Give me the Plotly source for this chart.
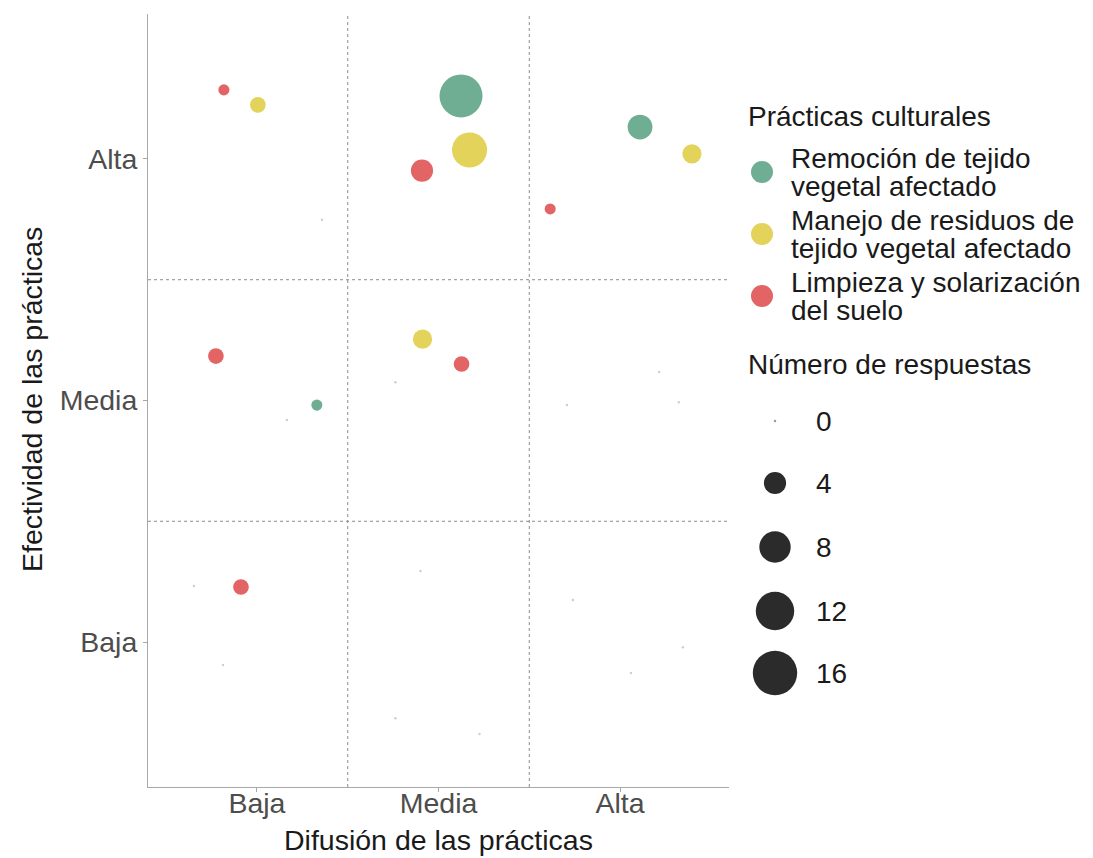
import plotly.graph_objects as go

# ---------------- data ----------------
difusion_niveles = ["Baja", "Media", "Alta"]
efectividad_niveles = ["Baja", "Media", "Alta"]

practicas = [
    "Remoción de tejido vegetal afectado",
    "Manejo de residuos de tejido vegetal afectado",
    "Limpieza y solarización del suelo",
]
practicas_lineas = [
    ["Remoción de tejido", "vegetal afectado"],
    ["Manejo de residuos de", "tejido vegetal afectado"],
    ["Limpieza y solarización", "del suelo"],
]
colores = ["#6fae93", "#e4d35b", "#e26464"]

celda_difusion = ["Baja", "Media", "Alta", "Baja", "Media", "Alta", "Baja", "Media", "Alta"]
celda_efectividad = ["Alta", "Alta", "Alta", "Media", "Media", "Media", "Baja", "Baja", "Baja"]

respuestas_remocion = [0, 15, 5, 1, 0, 0, 0, 0, 0]
respuestas_manejo = [2, 10, 3, 0, 3, 0, 0, 0, 0]
respuestas_limpieza = [1, 4, 1, 2, 2, 0, 2, 0, 0]

jitter_x_remocion = [0.358, 0.124, 0.110, 0.330, -0.237, 0.215, -0.347, -0.099, -0.260]
jitter_y_remocion = [-0.252, 0.261, 0.132, -0.019, 0.076, 0.118, 0.232, 0.294, 0.174]
jitter_x_manejo = [0.005, 0.171, 0.396, 0.165, -0.088, -0.293, -0.187, -0.237, 0.346]
jitter_y_manejo = [0.224, 0.037, 0.021, -0.081, 0.254, -0.019, -0.095, -0.315, -0.021]
jitter_x_limpieza = [-0.182, -0.091, -0.385, -0.226, 0.127, 0.324, -0.088, 0.226, 0.060]
jitter_y_limpieza = [0.286, -0.048, -0.207, 0.184, 0.151, -0.007, 0.228, -0.381, -0.128]

leyenda_tamanos = [0, 4, 8, 12, 16]

respuestas = [respuestas_remocion, respuestas_manejo, respuestas_limpieza]
jitter_x = [jitter_x_remocion, jitter_x_manejo, jitter_x_limpieza]
jitter_y = [jitter_y_remocion, jitter_y_manejo, jitter_y_limpieza]

# ---------------- styling / layout (screen pixel coords) ----------------
FONT = "Liberation Sans, Arial, sans-serif"
PX_PER_SQRT = 11.1
SIZEREF = 2.0 / PX_PER_SQRT ** 2
ZERO_COLOR = "#cfcfcf"
AXIS_COLOR = "#a8a8a8"
GRID_COLOR = "#8c8c8c"
TEXT_COLOR = "#1a1a1a"
TICK_FS = 28.5
TITLE_FS = 28.5
LEG_FS = 28

OFF = 8  # page body margin
W, H = 1093 - OFF, 858 - OFF
plot_left_s, plot_top_s, plot_bottom_s = 148, 14, 787
main_right_s, fig_right_s, aux_left_s = 729, 1083, 737
ML = plot_left_s - OFF
MT = plot_top_s - OFF
MB = (H + OFF) - plot_bottom_s
MR = (W + OFF) - fig_right_s
plot_w = fig_right_s - plot_left_s
plot_h = plot_bottom_s - plot_top_s
x_dom_end = (main_right_s - plot_left_s) / plot_w
aux_dom_start = (aux_left_s - plot_left_s) / plot_w

fig = go.Figure()

def pos(levels, value):
    return levels.index(value) + 1

for p in range(3):
    xs = [pos(difusion_niveles, d) + j for d, j in zip(celda_difusion, jitter_x[p])]
    ys = [pos(efectividad_niveles, e) + j for e, j in zip(celda_efectividad, jitter_y[p])]
    xs_pos = [x for x, v in zip(xs, respuestas[p]) if v > 0]
    ys_pos = [y for y, v in zip(ys, respuestas[p]) if v > 0]
    vs_pos = [v for v in respuestas[p] if v > 0]
    xs_zero = [x for x, v in zip(xs, respuestas[p]) if v == 0]
    ys_zero = [y for y, v in zip(ys, respuestas[p]) if v == 0]
    fig.add_trace(go.Scatter(
        x=xs_pos, y=ys_pos, mode="markers", name=practicas[p],
        marker=dict(size=vs_pos, sizemode="area", sizeref=SIZEREF,
                    color=colores[p], line=dict(width=0), opacity=1),
        showlegend=False,
    ))
    fig.add_trace(go.Scatter(
        x=xs_zero, y=ys_zero, mode="markers", name=practicas[p] + " (0)",
        marker=dict(size=2.5, color=ZERO_COLOR, line=dict(width=0), opacity=1),
        showlegend=False,
    ))

# ---------------- custom legend (auxiliary axes in screen pixel coords) ----------------
key_x = 762
key_ys = [172, 234, 296]
fig.add_trace(go.Scatter(
    x=[key_x] * 3, y=key_ys, mode="markers", xaxis="x2", yaxis="y2",
    marker=dict(size=22, color=colores, line=dict(width=0), opacity=1), showlegend=False,
    hoverinfo="skip",
))

size_key_x = 775
size_key_ys = [421, 483, 547, 611, 673]
fig.add_trace(go.Scatter(
    x=[size_key_x for v in leyenda_tamanos if v > 0],
    y=[y for y, v in zip(size_key_ys, leyenda_tamanos) if v > 0],
    mode="markers", xaxis="x2", yaxis="y2",
    marker=dict(size=[v for v in leyenda_tamanos if v > 0], sizemode="area",
                sizeref=SIZEREF, color="#2b2b2b", line=dict(width=0), opacity=1),
    showlegend=False, hoverinfo="skip",
))
fig.add_trace(go.Scatter(
    x=[size_key_x for v in leyenda_tamanos if v == 0],
    y=[y for y, v in zip(size_key_ys, leyenda_tamanos) if v == 0],
    mode="markers", xaxis="x2", yaxis="y2",
    marker=dict(size=2.5, color="#9a9a9a", line=dict(width=0), opacity=1),
    showlegend=False, hoverinfo="skip",
))

annotations = []
annotations.append(dict(x=747, y=116, xref="x2", yref="y2", text="Prácticas culturales",
                        showarrow=False, xanchor="left", yanchor="middle", borderpad=0,
                        font=dict(family=FONT, size=LEG_FS, color=TEXT_COLOR)))
for ky, lines in zip(key_ys, practicas_lineas):
    for i, line in enumerate(lines):
        annotations.append(dict(x=790, y=ky - 14 + 28.5 * i, xref="x2", yref="y2", text=line,
                                showarrow=False, xanchor="left", yanchor="middle", borderpad=0,
                                font=dict(family=FONT, size=LEG_FS, color=TEXT_COLOR)))
annotations.append(dict(x=747, y=364, xref="x2", yref="y2", text="Número de respuestas",
                        showarrow=False, xanchor="left", yanchor="middle", borderpad=0,
                        font=dict(family=FONT, size=LEG_FS, color=TEXT_COLOR)))
for ky, v in zip(size_key_ys, leyenda_tamanos):
    annotations.append(dict(x=815, y=ky, xref="x2", yref="y2", text=str(v),
                            showarrow=False, xanchor="left", yanchor="middle", borderpad=0,
                            font=dict(family=FONT, size=LEG_FS, color=TEXT_COLOR)))

# axis titles
annotations.append(dict(x=((plot_left_s + main_right_s) / 2 - plot_left_s) / plot_w,
                        y=(plot_bottom_s - 840) / plot_h,
                        xref="paper", yref="paper", text="Difusión de las prácticas",
                        showarrow=False, xanchor="center", yanchor="middle", borderpad=0,
                        font=dict(family=FONT, size=TITLE_FS, color=TEXT_COLOR)))
annotations.append(dict(x=(32 - plot_left_s) / plot_w, y=(plot_bottom_s - 400) / plot_h,
                        xref="paper", yref="paper", text="Efectividad de las prácticas",
                        showarrow=False, xanchor="center", yanchor="middle", textangle=-90,
                        borderpad=0,
                        font=dict(family=FONT, size=TITLE_FS, color=TEXT_COLOR)))

# divider lines
shapes = []
for b in [1.5, 2.5]:
    shapes.append(dict(type="line", xref="x", yref="y", x0=b, x1=b, y0=0.4, y1=3.6,
                       line=dict(color=GRID_COLOR, width=1, dash="dot"), layer="below"))
    shapes.append(dict(type="line", xref="x", yref="y", x0=0.4, x1=3.6, y0=b, y1=b,
                       line=dict(color=GRID_COLOR, width=1, dash="dot"), layer="below"))

axis_common = dict(
    range=[0.4, 3.6], tickvals=[1, 2, 3], showgrid=False, zeroline=False,
    showline=True, linecolor=AXIS_COLOR, linewidth=1, mirror=False,
    ticks="outside", ticklen=4, tickcolor=AXIS_COLOR, tickwidth=1,
    tickfont=dict(family=FONT, size=TICK_FS, color="#4d4d4d"), fixedrange=True,
)

fig.update_layout(
    width=W, height=H,
    margin=dict(l=ML, r=MR, t=MT, b=MB, autoexpand=False),
    paper_bgcolor="white", plot_bgcolor="white",
    showlegend=False,
    xaxis=dict(domain=[0, x_dom_end], ticktext=difusion_niveles, ticklabelstandoff=-13,
               **axis_common),
    yaxis=dict(domain=[0, 1], ticktext=efectividad_niveles, **axis_common),
    xaxis2=dict(domain=[aux_dom_start, 1], range=[aux_left_s, fig_right_s], visible=False,
                anchor="y2", fixedrange=True),
    yaxis2=dict(domain=[0, 1], range=[plot_bottom_s, plot_top_s], visible=False,
                anchor="x2", fixedrange=True),
    shapes=shapes,
    annotations=annotations,
    hovermode=False,
)

fig.write_html("out.html")
